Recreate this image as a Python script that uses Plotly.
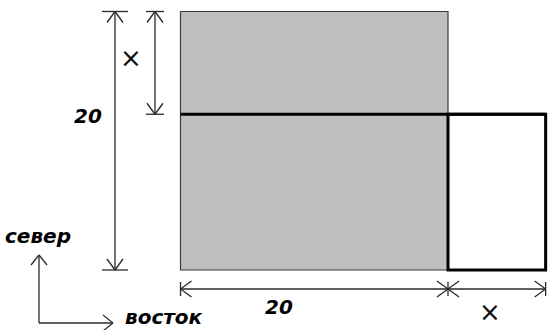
import plotly.graph_objects as go

# side lengths of the figure (units as drawn)
SIDE = [20, 20]            # width, height of the grey square
X_EXT = [7.3, 7.95]        # "x" extension: width to the right, strip height on top
LABELS_DIM = ["20", "×", "20", "×"]
DIRECTIONS = ["север", "восток"]

W, H = 548, 330
PX_X = 13.375   # pixels per unit, horizontal
PX_Y = 12.925   # pixels per unit, vertical
X0_PX, Y0_PX = 180.5, 270.0

sw, sh = SIDE
xw, xh = X_EXT
split_y = sh - xh

fig = go.Figure()

LINE = "#2a2a2a"


def segs(points):
    xs, ys = [], []
    for (a, b), (c, d) in points:
        xs += [a, c, None]
        ys += [b, d, None]
    return xs, ys


def arrow_head(tx, ty, dx, dy, length=11, half=8):
    # open V arrow head at tip (tx, ty) pointing in direction (dx, dy) (pixel dir)
    lx, ly = -dx * length, -dy * length
    px_, py_ = -dy * half, dx * half
    w1 = (tx + (lx + px_) / PX_X, ty + (ly + py_) / PX_Y)
    w2 = (tx + (lx - px_) / PX_X, ty + (ly - py_) / PX_Y)
    return [((tx, ty), w1), ((tx, ty), w2)]


def add_lines(points, color=LINE, width=1.3):
    xs, ys = segs(points)
    fig.add_trace(go.Scatter(x=xs, y=ys, mode="lines", line=dict(color=color, width=width),
                             hoverinfo="skip", showlegend=False))


# grey square and the extension
fig.add_shape(type="rect", x0=0, y0=0, x1=sw, y1=sh, fillcolor="#bebfc1",
              line=dict(color="#3a3a3a", width=1.2), layer="below")
fig.add_shape(type="rect", x0=sw, y0=0, x1=sw + xw, y1=split_y, fillcolor="rgba(0,0,0,0)",
              line=dict(color="black", width=3))
fig.add_shape(type="line", x0=0, y0=split_y, x1=sw + xw, y1=split_y, line=dict(color="black", width=3))

# vertical dimension "20"
vx = -65.5 / PX_X
cap = 13 / PX_X
pts = [((vx, 0), (vx, sh)), ((vx - cap, sh), (vx + cap, sh)), ((vx - cap, 0), (vx + cap, 0))]
pts += arrow_head(vx, sh, 0, 1) + arrow_head(vx, 0, 0, -1)
# vertical dimension "x"
vx2 = -25.5 / PX_X
cap2 = 9 / PX_X
pts += [((vx2, split_y), (vx2, sh)), ((vx2 - cap2, sh), (vx2 + cap2, sh)),
        ((vx2 - cap2, split_y), (vx2 + cap2, split_y))]
pts += arrow_head(vx2, sh, 0, 1) + arrow_head(vx2, split_y, 0, -1)
# horizontal dimensions
hy = -19 / PX_Y
tick = 7 / PX_Y
pts += [((0, hy), (sw + xw, hy))]
for xv in [0, sw, sw + xw]:
    pts.append(((xv, hy - tick), (xv, hy + tick)))
pts += arrow_head(0, hy, -1, 0) + arrow_head(sw, hy, 1, 0)
pts += arrow_head(sw, hy, -1, 0) + arrow_head(sw + xw, hy, 1, 0)
# compass
cx = -141.5 / PX_X
ctop = 15 / PX_Y
cbot = -53 / PX_Y
cright = -67.5 / PX_X
pts += [((cx, ctop), (cx, cbot)), ((cx, cbot), (cright, cbot))]
pts += arrow_head(cx, ctop, 0, 1, length=10, half=8) + arrow_head(cright, cbot, 1, 0, length=10, half=8)
add_lines(pts)

font = dict(family="DejaVu Sans", size=20, color="black", weight="bold", style="italic")
cross = dict(family="DejaVu Sans", size=26, color="#111111")
texts = [
    (-92.5 / PX_X, 154 / PX_Y, LABELS_DIM[0], font),
    (-49.5 / PX_X, 212 / PX_Y, LABELS_DIM[1], cross),
    (98.5 / PX_X, -37 / PX_Y, LABELS_DIM[2], font),
    (309.5 / PX_X, -42 / PX_Y, LABELS_DIM[3], cross),
    (-142.5 / PX_X, 34 / PX_Y, DIRECTIONS[0], font),
    (-16.5 / PX_X, -47 / PX_Y, DIRECTIONS[1], font),
]
for tx, ty, t, f in texts:
    fig.add_annotation(x=tx, y=ty, text=t, showarrow=False, font=f)

fig.update_layout(
    width=W, height=H, margin=dict(l=0, r=0, t=0, b=0),
    paper_bgcolor="white", plot_bgcolor="white",
    xaxis=dict(range=[-X0_PX / PX_X, (W - X0_PX) / PX_X], visible=False, fixedrange=True),
    yaxis=dict(range=[-(H - Y0_PX) / PX_Y, Y0_PX / PX_Y], visible=False, fixedrange=True),
)

fig.write_html("out.html", config={"displayModeBar": False},
               post_script="document.body.style.margin='0';document.body.style.overflow='hidden';")
